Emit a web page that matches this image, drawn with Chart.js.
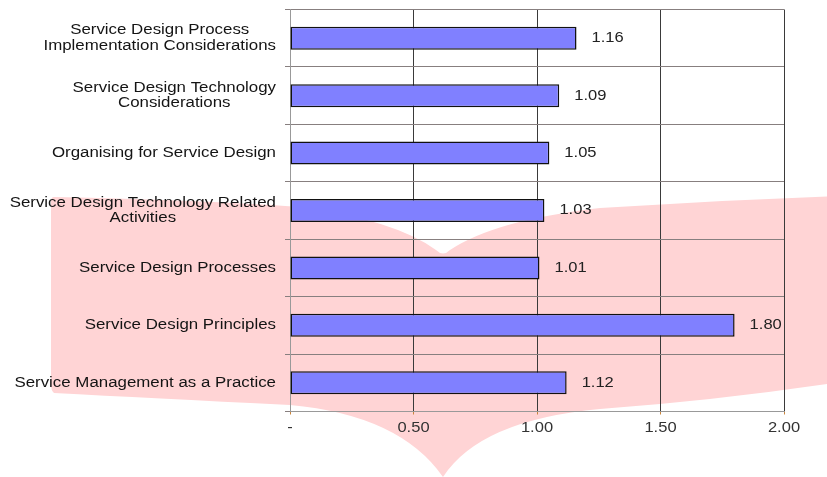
<!DOCTYPE html>
<html><head><meta charset="utf-8">
<script src="https://cdn.jsdelivr.net/npm/chart.js"></script>
<style>html,body{margin:0;padding:0;background:#fff;} #wrap{width:827px;height:477px;position:relative;}</style>
</head><body><div id="wrap"><canvas id="c"></canvas></div>
<script>
const categories = [
  ["Service Design Process", "Implementation Considerations"],
  ["Service Design Technology", "Considerations"],
  ["Organising for Service Design"],
  ["Service Design Technology Related", "Activities"],
  ["Service Design Processes"],
  ["Service Design Principles"],
  ["Service Management as a Practice"]
];
const values = [1.16, 1.09, 1.05, 1.03, 1.01, 1.80, 1.12];
const xTickValues = [0, 0.5, 1, 1.5, 2];
const xTickLabels = ["-", "0.50", "1.00", "1.50", "2.00"];

const FONT = '14px "Liberation Sans", Arial, sans-serif';

function stretchedText(ctx, text, x, y, align, sx) {
  const w = ctx.measureText(text).width * sx;
  let left = x;
  if (align === 'right') left = x - w;
  else if (align === 'center') left = x - w / 2;
  ctx.save();
  ctx.translate(left, y);
  ctx.scale(sx, 1);
  ctx.textAlign = 'left';
  ctx.fillText(text, 0, 0);
  ctx.restore();
}

const watermark = {
  id: 'watermark',
  beforeDraw(chart) {
    const ctx = chart.ctx;
    ctx.save();
    ctx.fillStyle = 'rgb(255,212,213)';
    ctx.beginPath();
    ctx.moveTo(54, 197);
    ctx.quadraticCurveTo(200, 200, 300, 207);
    ctx.quadraticCurveTo(395, 220, 436, 250);
    ctx.quadraticCurveTo(443, 257, 450, 250);
    ctx.quadraticCurveTo(495, 220, 600, 208);
    ctx.quadraticCurveTo(720, 200, 840, 196);
    ctx.lineTo(840, 382);
    ctx.quadraticCurveTo(720, 400, 600, 409);
    ctx.quadraticCurveTo(480, 420, 443, 477);
    ctx.quadraticCurveTo(400, 415, 290, 405);
    ctx.quadraticCurveTo(150, 398, 54, 393);
    ctx.quadraticCurveTo(51, 390, 51, 385);
    ctx.lineTo(51, 202);
    ctx.quadraticCurveTo(51, 197, 54, 197);
    ctx.closePath();
    ctx.fill();
    ctx.restore();
  }
};

const textPlugin = {
  id: 'texts',
  afterDraw(chart) {
    const ctx = chart.ctx;
    const ys = chart.scales.y, xs = chart.scales.x;
    ctx.save();
    ctx.font = FONT;
    ctx.textBaseline = 'middle';
    ctx.fillStyle = '#141414';
    const rightEdge = ys.right - 14;
    const lh = 15.5;
    const sxL = 1.205;
    categories.forEach((lines, i) => {
      const cy = ys.getPixelForTick(i);
      const widths = lines.map(l => ctx.measureText(l).width * sxL);
      const W = Math.max(...widths);
      const cx = rightEdge - W / 2;
      lines.forEach((l, j) => {
        const y = cy + (j - (lines.length - 1) / 2) * lh;
        stretchedText(ctx, l, cx, y, 'center', sxL);
      });
    });
    ctx.fillStyle = '#333';
    xTickValues.forEach((v, i) => {
      stretchedText(ctx, xTickLabels[i], xs.getPixelForValue(v), xs.top + 17, 'center', 1.18);
    });
    ctx.fillStyle = '#222';
    const meta = chart.getDatasetMeta(0);
    meta.data.forEach((bar, i) => {
      stretchedText(ctx, values[i].toFixed(2), bar.x + 15, bar.y, 'left', 1.18);
    });
    ctx.restore();
  }
};

new Chart(document.getElementById('c'), {
  type: 'bar',
  data: {
    labels: categories,
    datasets: [{
      data: values,
      backgroundColor: '#8080FF',
      borderColor: '#111',
      borderWidth: 1.5,
      borderSkipped: false,
      barPercentage: 0.4,
      categoryPercentage: 1
    }]
  },
  options: {
    indexAxis: 'y',
    responsive: true,
    maintainAspectRatio: false,
    animation: false,
    devicePixelRatio: 1,
    layout: { padding: { top: 9.5, right: 43, bottom: 0, left: 0 } },
    plugins: { legend: { display: false }, tooltip: { enabled: false } },
    scales: {
      x: {
        min: 0, max: 2,
        ticks: { display: false, stepSize: 0.5 },
        grid: {
          color: (c) => (c.tick && c.tick.value === 0) ? '#999' : '#3a3a3a',
          tickColor: '#c8843c',
          tickLength: 3,
          lineWidth: 1
        },
        border: { display: true, color: '#999' },
        afterFit(s) { s.height = 65.5; }
      },
      y: {
        ticks: { display: false },
        grid: { color: '#877f7f', tickColor: '#877f7f', tickLength: 5, offset: true, lineWidth: 1 },
        border: { display: true, color: '#999' },
        afterFit(s) { s.width = 290; }
      }
    }
  },
  plugins: [watermark, textPlugin]
});
</script>
</body></html>
